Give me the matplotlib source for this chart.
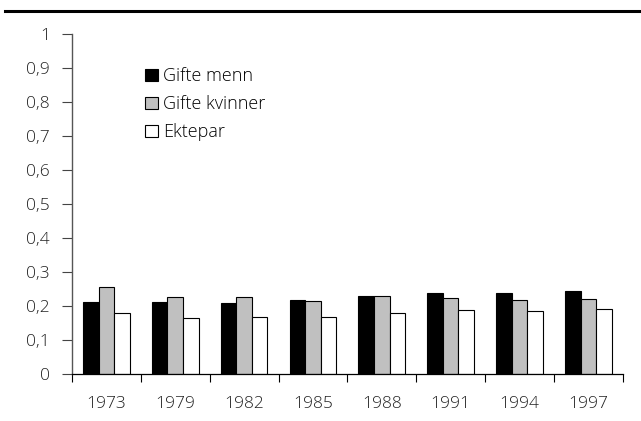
import matplotlib
matplotlib.use("Agg")
import matplotlib.pyplot as plt
import numpy as np

years = ["1973", "1979", "1982", "1985", "1988", "1991", "1994", "1997"]
gifte_menn = [0.213, 0.211, 0.209, 0.218, 0.230, 0.237, 0.237, 0.245]
gifte_kvinner = [0.255, 0.227, 0.226, 0.216, 0.230, 0.224, 0.217, 0.220]
ektepar = [0.180, 0.165, 0.167, 0.167, 0.179, 0.189, 0.185, 0.191]
series_names = ["Gifte menn", "Gifte kvinner", "Ektepar"]
yticks = [0, 0.1, 0.2, 0.3, 0.4, 0.5, 0.6, 0.7, 0.8, 0.9, 1]
ytick_labels = ["0", "0,1", "0,2", "0,3", "0,4", "0,5", "0,6", "0,7", "0,8", "0,9", "1"]

plt.rcParams['font.family'] = ['Open Sans', 'DejaVu Sans']
plt.rcParams['font.weight'] = 'light'

W, H = 641, 421
fig = plt.figure(figsize=(W / 100, H / 100), dpi=100)
x0, x1 = 72, 622.7
y0, y1 = 374, 34
ax = fig.add_axes([x0 / W, (H - y0) / H, (x1 - x0) / W, (y0 - y1) / H])

x = np.arange(len(years))
bw = 0.226
colors = ["black", "#c0c0c0", "white"]
for i, (vals, c, name) in enumerate(zip([gifte_menn, gifte_kvinner, ektepar], colors, series_names)):
    ax.bar(x + (i - 1) * bw, vals, width=bw, color=c, edgecolor="black", linewidth=0.8, label=name)

fs = 12.5
ax.set_xlim(-0.5, len(years) - 0.5)
ax.set_ylim(0, 1)
ax.set_yticks(yticks)
ax.set_yticklabels(ytick_labels, fontsize=fs, color="#222222")
ax.set_xticks(x)
ax.set_xticklabels(years, fontsize=fs, color="#222222")
ax.tick_params(axis="x", length=0, pad=16)
ax.tick_params(axis="y", length=7, width=0.8, pad=9, direction="out", color="#444444")
# category boundary ticks on x axis
ax.set_xticks(np.arange(len(years) + 1) - 0.5, minor=True)
ax.tick_params(axis="x", which="minor", length=6, width=0.8, direction="out")

for s in ["top", "right"]:
    ax.spines[s].set_visible(False)
ax.spines["left"].set_color("#555555")
ax.spines["left"].set_linewidth(1.0)
ax.spines["bottom"].set_color("black")
ax.spines["bottom"].set_linewidth(0.9)

ax.legend(loc="upper left", bbox_to_anchor=(145 / W, 1 - 67 / H), bbox_transform=fig.transFigure,
          frameon=False, prop={"size": 13, "weight": "light"}, handlelength=0.72, handleheight=0.67,
          handletextpad=0.3, labelspacing=0.56, borderaxespad=0, borderpad=0)

# top rule
fig.add_artist(plt.Line2D([5 / W, 1], [1 - 10.7 / H, 1 - 10.7 / H], color="black", linewidth=2.2,
                          transform=fig.transFigure))

fig.savefig("out.png", dpi=100)
